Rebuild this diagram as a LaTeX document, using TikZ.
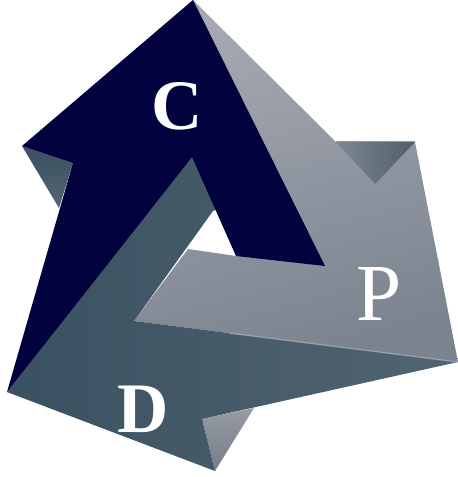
\documentclass[tikz,border=0pt]{standalone}
\usepackage{fontspec}
\setmainfont{Liberation Serif}
\definecolor{navy}{HTML}{02023F}
\definecolor{greyL}{RGB}{166,169,179}
\definecolor{greyR}{RGB}{122,131,142}
\definecolor{foldL}{RGB}{125,136,146}
\definecolor{foldR}{RGB}{78,94,107}
\definecolor{edgeA}{RGB}{150,155,160}
\definecolor{smallT}{RGB}{150,155,165}
\definecolor{smallB}{RGB}{118,126,136}
\definecolor{tealL}{RGB}{58,81,97}
\definecolor{tealR}{RGB}{82,100,113}
\definecolor{ridge}{RGB}{165,172,180}
\tikzset{
  letterbold/.style={text=white,inner sep=0pt,font=\fontsize{71}{71}\selectfont\bfseries},
  letterreg/.style={text=white,inner sep=0pt,font=\fontsize{81}{81}\selectfont},
}
\begin{document}
\begin{tikzpicture}[x=1pt,y=-1pt]
\useasboundingbox (0,0) rectangle (458,477);
% grey arrow
\shade[left color=greyL,right color=greyR,shading angle=15]
  (193,0) -- (336,142) -- (415,142) -- (458,362) -- (134,321) -- (188,249) -- (236,256) -- cycle;
% dark fold of the grey arrow
\shade[left color=foldL,right color=foldR]
  (336,142) -- (415,142) -- (375,184) -- cycle;
\draw[color=edgeA,line width=0.8pt] (336,141.5) -- (415,141.5);
% small grey fold at the bottom
\shade[top color=smallT,bottom color=smallB]
  (202,419) -- (254,408) -- (215,471) -- cycle;
% teal arrow
\shade[left color=tealL,right color=tealR]
  (192,155) -- (220,208) -- (213,211) -- (134,321) -- (458,362) -- (202,419) -- (215,471) -- (7,392) -- cycle;
\draw[color=ridge,line width=1.4pt,opacity=0.7] (229,333) -- (458,362);
% teal fold at the left
\shade[top color=tealL,bottom color=tealR]
  (22,146) -- (73,163) -- (59,208) -- cycle;
% navy arrow
\fill[navy] (193,0) -- (325,266) -- (236,256) -- (192,157) -- (7,392) -- (73,163) -- (22,146) -- cycle;
% letters
\node[letterbold] (c) at (177.5,106) {C};
\node[letterbold] (d) at (143,409.5) {D};
\node[letterreg] (p) at (379.5,294) {P};
\end{tikzpicture}
\end{document}
